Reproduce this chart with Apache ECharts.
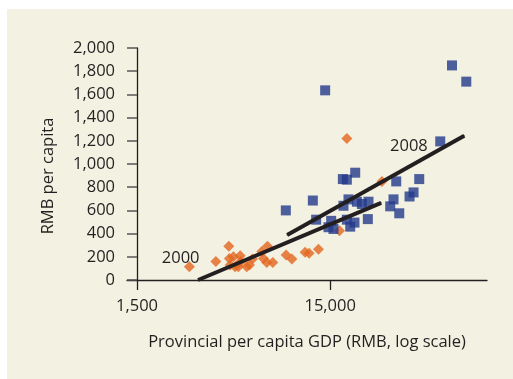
<!DOCTYPE html>
<html>
<head>
<meta charset="utf-8">
<script src="https://cdn.jsdelivr.net/npm/echarts@6/dist/echarts.min.js"></script>
<style>
  html, body { margin: 0; padding: 0; background: #ffffff; }
  #panel { position: absolute; left: 7px; top: 9px; width: 506px; height: 370px; background: #f3f1e1; }
  #chart { position: absolute; left: 0; top: 0; width: 513px; height: 379px; }
</style>
</head>
<body>
<div id="panel"></div>
<div id="chart"></div>
<script>
// Provincial spending per capita vs per capita GDP (log scale), 2000 and 2008
var gdp2000 = [2800, 3840, 4480, 4510, 4730, 5130, 4550, 4830, 5020, 5550, 5730, 5940,
               6640, 6770, 7100, 7050, 7570, 8870, 9500, 11130, 11670, 13040, 16760,
               18300, 27800, 5170];
var rmb2000 = [115, 160, 290, 185, 200, 210, 130, 115, 115, 115, 130, 180,
               245, 185, 290, 150, 150, 215, 180, 240, 230, 265, 425,
               1220, 850, 160];

var gdp2008 = [8840, 12200, 12690, 14130, 14700, 15180, 15600, 17450, 18300, 20220,
               17580, 18660, 18300, 19050, 20040, 20620, 21890, 23690, 23500, 30690,
               31920, 32970, 34180, 38640, 40530, 43370, 55720, 64080, 76000];
var rmb2008 = [600, 685, 520, 1635, 455, 510, 440, 870, 865, 925,
               640, 695, 520, 460, 495, 675, 655, 675, 525, 635,
               695, 850, 575, 720, 755, 870, 1195, 1850, 1710];

// fitted trend lines: [start, end]
var trendGdp2000 = [3105, 27560];
var trendRmb2000 = [0, 665];
var trendGdp2008 = [8980, 74200];
var trendRmb2008 = [388, 1243];

var xTicks = [1500, 15000];
var yTicks = [0, 200, 400, 600, 800, 1000, 1200, 1400, 1600, 1800, 2000];

var FONT = 'Open Sans';
var INK = '#231f20';
var FS = 16.5;

function pairs(xs, ys) {
  return xs.map(function (x, i) { return [x, ys[i]]; });
}
function fmt(v) {
  return Math.round(v).toString().replace(/\B(?=(\d{3})+(?!\d))/g, ',');
}

var chart = echarts.init(document.getElementById('chart'), null, { renderer: 'canvas' });

chart.setOption({
  animation: false,
  textStyle: { fontFamily: FONT, color: INK },
  grid: { left: 127, right: 26, top: 48, bottom: 99, containLabel: false },
  xAxis: {
    type: 'log',
    logBase: 10,
    min: 1331,
    max: 97290,
    name: 'Provincial per capita GDP (RMB, log scale)',
    nameLocation: 'middle',
    nameGap: 54,
    nameTextStyle: { fontFamily: FONT, fontSize: FS, color: INK },
    axisLine: { onZero: false, lineStyle: { color: INK, width: 1.3 } },
    axisTick: { show: true, length: 10, inside: false, customValues: xTicks,
                lineStyle: { color: INK, width: 1.3 } },
    axisLabel: { customValues: xTicks, margin: 18, fontFamily: FONT, fontSize: FS, color: INK,
                 formatter: function (v) { return fmt(v); } },
    splitLine: { show: false },
    minorTick: { show: false }
  },
  yAxis: {
    type: 'value',
    min: yTicks[0],
    max: yTicks[yTicks.length - 1],
    interval: 200,
    offset: -10,
    name: 'RMB per capita',
    nameLocation: 'middle',
    nameRotate: 90,
    nameGap: 80,
    nameTextStyle: { fontFamily: FONT, fontSize: FS, color: INK, padding: [0, 24, 0, 0] },
    axisLine: { show: true, onZero: false, lineStyle: { color: INK, width: 1.3 } },
    axisTick: { show: true, length: 10, inside: false, lineStyle: { color: '#555555', width: 1.5 } },
    axisLabel: { margin: 22, fontFamily: FONT, fontSize: FS, color: INK,
                 formatter: function (v) { return fmt(v); } },
    splitLine: { show: false }
  },
  series: [
    {
      name: '2000',
      type: 'scatter',
      symbol: 'diamond',
      symbolSize: 11,
      itemStyle: { color: '#e2661f' },
      data: pairs(gdp2000, rmb2000),
      z: 2
    },
    {
      name: '2008',
      type: 'scatter',
      symbol: 'rect',
      symbolSize: 10,
      itemStyle: { color: '#233a8c' },
      data: pairs(gdp2008, rmb2008),
      z: 3
    },
    {
      name: 'Trend 2000',
      type: 'line',
      symbol: 'circle',
      symbolSize: 1,
      showSymbol: true,
      itemStyle: { color: INK },
      lineStyle: { color: INK, width: 4 },
      data: [
        { value: [trendGdp2000[0], trendRmb2000[0]],
          label: { show: true, formatter: '2000', position: 'left', distance: -2, offset: [0, -22],
                   fontFamily: FONT, fontSize: FS, color: INK } },
        [trendGdp2000[1], trendRmb2000[1]]
      ],
      z: 5
    },
    {
      name: 'Trend 2008',
      type: 'line',
      symbol: 'circle',
      symbolSize: 1,
      showSymbol: true,
      itemStyle: { color: INK },
      lineStyle: { color: INK, width: 4 },
      data: [
        [trendGdp2008[0], trendRmb2008[0]],
        { value: [trendGdp2008[1], trendRmb2008[1]],
          label: { show: true, formatter: '2008', position: 'left', distance: 36, offset: [0, 10],
                   fontFamily: FONT, fontSize: FS, color: INK } }
      ],
      z: 5
    }
  ]
});
</script>
</body>
</html>
